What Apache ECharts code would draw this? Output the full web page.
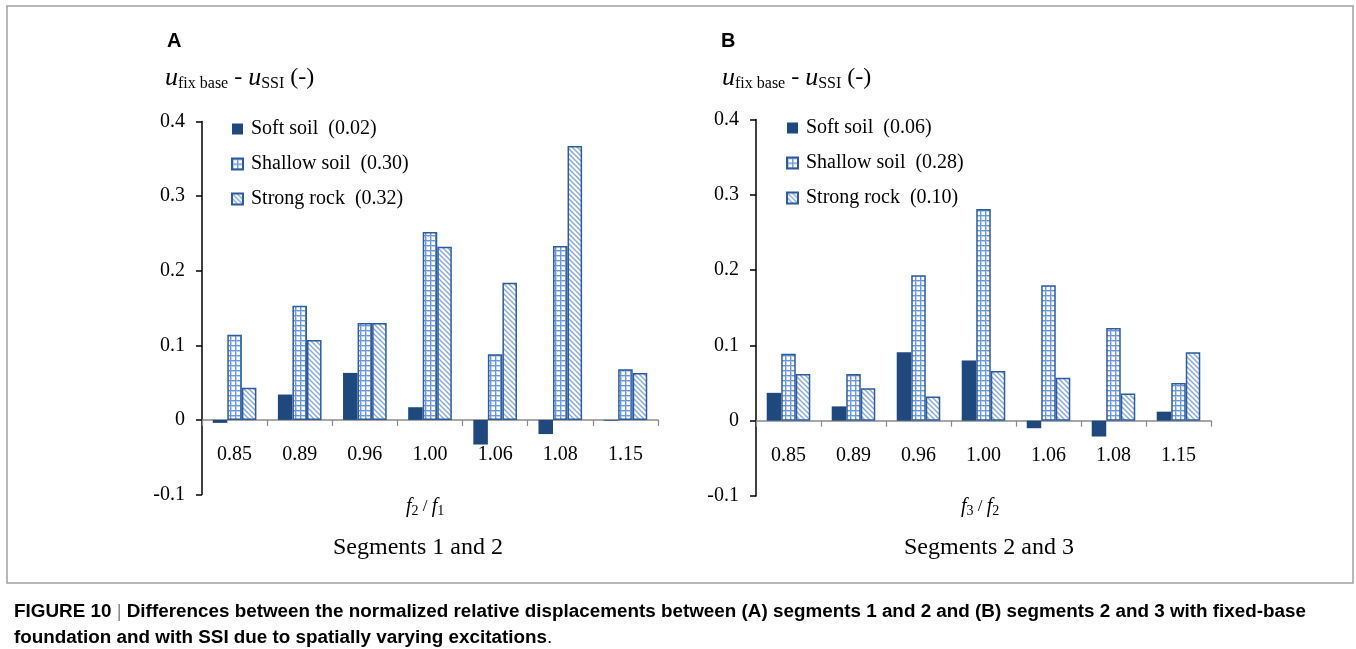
<!DOCTYPE html>
<html>
<head>
<meta charset="utf-8">
<script src="https://cdn.jsdelivr.net/npm/echarts@6/dist/echarts.min.js"></script>
<style>
html,body{margin:0;padding:0;background:#fff;}
#chart{width:1356px;height:649px;}
</style>
</head>
<body>
<div id="chart"></div>
<script>
// ---- data ----
const categories = ['0.85','0.89','0.96','1.00','1.06','1.08','1.15'];
const seriesNamesA = ['Soft soil  (0.02)','Shallow soil  (0.30)','Strong rock  (0.32)'];
const seriesNamesB = ['Soft soil  (0.06)','Shallow soil  (0.28)','Strong rock  (0.10)'];
const softA    = [-0.004, 0.034, 0.063, 0.017, -0.033, -0.019, -0.001];
const shallowA = [0.114, 0.153, 0.130, 0.252, 0.088, 0.233, 0.068];
const rockA    = [0.043, 0.107, 0.130, 0.232, 0.184, 0.367, 0.063];
const softB    = [0.037, 0.019, 0.091, 0.080, -0.010, -0.021, 0.012];
const shallowB = [0.089, 0.062, 0.193, 0.281, 0.180, 0.123, 0.050];
const rockB    = [0.062, 0.043, 0.032, 0.066, 0.057, 0.036, 0.091];
const yTicks = {min: -0.1, max: 0.4, interval: 0.1};

// ---- patterns ----
function gridPattern(){
  const c = document.createElement('canvas'); c.width = 5; c.height = 5;
  const g = c.getContext('2d');
  g.fillStyle = '#ffffff'; g.fillRect(0,0,5,5);
  g.fillStyle = '#bcd1ef'; g.fillRect(0,0,2,5); g.fillRect(0,0,5,2);
  g.fillStyle = '#6a98d8'; g.fillRect(0,0,1,5); g.fillRect(0,0,5,1);
  return {image: c, repeat: 'repeat'};
}
function hatchPattern(){
  const s = 5;
  const c = document.createElement('canvas'); c.width = s; c.height = s;
  const g = c.getContext('2d');
  g.fillStyle = '#ffffff'; g.fillRect(0,0,s,s);
  g.strokeStyle = '#84a9df'; g.lineWidth = 1.4;
  g.beginPath();
  g.moveTo(-1,-1); g.lineTo(s+1,s+1);
  g.moveTo(-1,s-1); g.lineTo(1,s+1);
  g.moveTo(s-1,-1); g.lineTo(s+1,1);
  g.stroke();
  return {image: c, repeat: 'repeat'};
}
const softStyle = {color: '#1f497d', borderColor: '#1f497d', borderWidth: 0};
const shallowStyle = {color: gridPattern(), borderColor: '#2e5b9e', borderWidth: 1.5};
const rockStyle = {color: hatchPattern(), borderColor: '#2e5b9e', borderWidth: 1.5};

const serif = '"Liberation Serif", "Times New Roman", serif';
const sans = '"Liberation Sans", Arial, sans-serif';

function xAxis(idx, offset){
  return {
    type: 'category', gridIndex: idx, data: categories, position: 'bottom', offset: offset,
    axisLine: {onZero: false, lineStyle: {color: '#8a8a8a', width: 1.5}},
    axisTick: {show: true, length: 6, lineStyle: {color: '#8a8a8a', width: 1.2}},
    axisLabel: {color: '#000', fontFamily: serif, fontSize: 20, margin: 25}
  };
}
function yAxis(idx){
  return {
    type: 'value', gridIndex: idx, min: yTicks.min, max: yTicks.max, interval: yTicks.interval,
    splitLine: {show: false},
    axisLine: {show: true, lineStyle: {color: '#000', width: 1.5}},
    axisTick: {show: true, length: 6, lineStyle: {color: '#000', width: 1.5}},
    axisLabel: {color: '#000', fontFamily: serif, fontSize: 20, margin: 17,
      formatter: v => (Math.abs(v) < 1e-9 ? '0' : String(Math.round(v*10)/10))}
  };
}
function bars(names, soft, shallow, rock, idx){
  const common = {type: 'bar', xAxisIndex: idx, yAxisIndex: idx, barGap: '0%', barCategoryGap: '33%', animation: false};
  return [
    Object.assign({name: names[0], data: soft, itemStyle: softStyle}, common),
    Object.assign({name: names[1], data: shallow, itemStyle: shallowStyle}, common),
    Object.assign({name: names[2], data: rock, itemStyle: rockStyle}, common)
  ];
}
function legend(names, left, top){
  return {
    data: names, orient: 'vertical', left: left, top: top, itemWidth: 11, itemHeight: 11,
    itemGap: 15, selectedMode: false, icon: 'rect', padding: 0,
    textStyle: {fontFamily: serif, fontSize: 20, color: '#000', padding: [0,0,0,3]}
  };
}
const yNameRich = {
  u: {fontFamily: serif, fontStyle: 'italic', fontSize: 26, color: '#000'},
  s: {fontFamily: serif, fontSize: 16, color: '#000', padding: [11,0,0,0]},
  t: {fontFamily: serif, fontSize: 24, color: '#000'}
};
const fRich = {
  f: {fontFamily: serif, fontStyle: 'italic', fontSize: 20, color: '#000'},
  s: {fontFamily: serif, fontSize: 14, color: '#000', padding: [8,0,0,0]},
  t: {fontFamily: serif, fontSize: 17, color: '#000'}
};
function yName(x){
  return {type: 'text', left: x, top: 65, style: {
    text: '{u|u}{s|fix base}{t| - }{u|u}{s|SSI}{t| (-)}', rich: yNameRich}};
}
function fName(x, a, b){
  return {type: 'text', left: x, top: 497, style: {
    text: '{f|f}{s|' + a + '}{t| / }{f|f}{s|' + b + '}', rich: fRich}};
}

const chart = echarts.init(document.getElementById('chart'), null, {renderer: 'canvas'});
chart.setOption({
  animation: false,
  backgroundColor: '#fff',
  grid: [
    {left: 202, top: 121.5, width: 456, height: 373},
    {left: 756, top: 119.5, width: 455, height: 376.5}
  ],
  xAxis: [xAxis(0, -74.6), xAxis(1, -75.3)],
  yAxis: [yAxis(0), yAxis(1)],
  legend: [legend(seriesNamesA, 231, 119), legend(seriesNamesB, 786, 118)],
  series: bars(seriesNamesA, softA, shallowA, rockA, 0).concat(bars(seriesNamesB, softB, shallowB, rockB, 1)),
  graphic: [
    {type: 'rect', shape: {x: 7, y: 6, width: 1346, height: 577}, style: {fill: 'none', stroke: '#a0a0a0', lineWidth: 1.5}, silent: true},
    {type: 'text', left: 167, top: 31, style: {text: 'A', font: 'bold 20px ' + sans, fill: '#000'}},
    {type: 'text', left: 721, top: 31, style: {text: 'B', font: 'bold 20px ' + sans, fill: '#000'}},
    yName(165), yName(722),
    fName(406, '2', '1'), fName(961, '3', '2'),
    {type: 'text', left: 333, top: 536, style: {text: 'Segments 1 and 2', font: '24px ' + serif, fill: '#000'}},
    {type: 'text', left: 904, top: 536, style: {text: 'Segments 2 and 3', font: '24px ' + serif, fill: '#000'}},
    {type: 'text', x: 14, y: 603, scaleX: 1.047, style: {
      text: '{b|FIGURE 10}{g| | }{b|Differences between the normalized relative displacements between (A) segments 1 and 2 and (B) segments 2 and 3 with fixed-base}',
      rich: {b: {font: 'bold 18px ' + sans, fill: '#000'}, g: {font: '18px ' + sans, fill: '#888'}}}},
    {type: 'text', x: 14, y: 629, scaleX: 1.047, style: {
      text: '{b|foundation and with SSI due to spatially varying excitations}{n|.}',
      rich: {b: {font: 'bold 18px ' + sans, fill: '#000'}, n: {font: '18px ' + sans, fill: '#000'}}}}
  ]
});
</script>
</body>
</html>
